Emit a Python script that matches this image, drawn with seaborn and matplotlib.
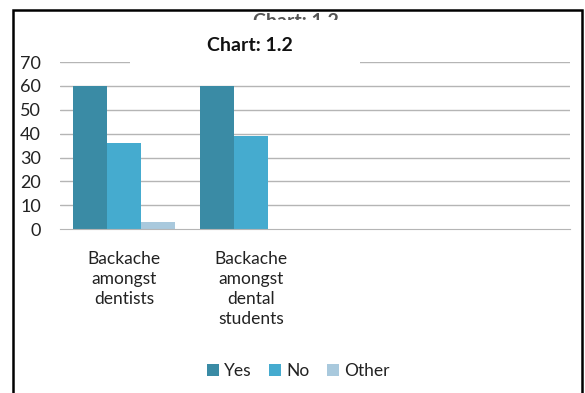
import seaborn as sns
import matplotlib.pyplot as plt
import pandas as pd
from matplotlib.patches import Rectangle

# data
categories = ['Backache\namongst\ndentists', 'Backache\namongst\ndental\nstudents']
empty_slots = ['', ' ']
yes_vals = [60, 60]
no_vals = [36, 39]
other_vals = [3, 0]
series = ['Yes', 'No', 'Other']
colors = ['#3a8ba5', '#45abcf', '#a9c9dd']

df = pd.DataFrame({
    'Category': categories * 3,
    'Answer': ['Yes'] * 2 + ['No'] * 2 + ['Other'] * 2,
    'Value': yes_vals + no_vals + other_vals,
})

sns.set_style('white')
plt.rcParams['font.family'] = ['Lato', 'DejaVu Sans']

fig = plt.figure(figsize=(5.85, 3.93), dpi=100)
ax = fig.add_axes([0.103, 0.417, 0.871, 0.425])

for y in range(10, 80, 10):
    ax.axhline(y, color='#b5b5b5', lw=1, zorder=0)

sns.barplot(data=df, x='Category', y='Value', hue='Answer',
            order=categories + empty_slots, hue_order=series,
            palette=colors, width=0.8, saturation=1, linewidth=0, ax=ax, zorder=2)

ax.set_ylim(0, 70)
ax.set_xlim(-0.5, 3.5)
ax.set_yticks(range(0, 80, 10))
ax.tick_params(axis='y', labelsize=13, length=0, pad=14, labelcolor='#222222')
ax.tick_params(axis='x', labelsize=12.5, length=0, pad=16, labelcolor='#222222')
for lbl in ax.get_xticklabels():
    lbl.set_linespacing(1.3)
ax.set_xlabel('')
ax.set_ylabel('')
for s in ['top', 'right', 'left']:
    ax.spines[s].set_visible(False)
ax.spines['bottom'].set_color('#b5b5b5')

leg = ax.legend(loc='lower center', bbox_to_anchor=(0.51, -0.005), bbox_transform=fig.transFigure,
                ncol=3, frameon=False, fontsize=12.5, handlelength=0.7, handleheight=0.7,
                handletextpad=0.3, columnspacing=1.0)
for t in leg.get_texts():
    t.set_color('#222222')

# title box breaking the top gridline
fig.add_artist(Rectangle((0.222, 0.832), 0.393, 0.08, transform=fig.transFigure,
                         facecolor='white', edgecolor='none', zorder=5))
fig.text(0.427, 0.885, 'Chart: 1.2', ha='center', va='center', fontsize=14,
         fontweight='bold', color='#111111', zorder=6)

# cut-off title at top of frame
fig.text(0.505, 0.945, 'Chart: 1.2', ha='center', va='center', fontsize=14,
         fontweight='bold', color='#555555', zorder=6)
fig.add_artist(Rectangle((0.3, 0.922), 0.4, 0.028, transform=fig.transFigure,
                         facecolor='white', edgecolor='none', zorder=10))

# outer frame
fig.add_artist(Rectangle((0.022, -0.1), 0.973, 1.075, transform=fig.transFigure,
                         facecolor='none', edgecolor='black', lw=1.8, zorder=11))

fig.savefig('out.png', dpi=100)
